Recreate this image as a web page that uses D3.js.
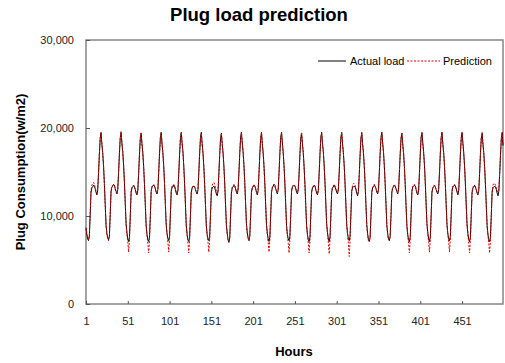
<!DOCTYPE html>
<html>
<head>
<meta charset="utf-8">
<script src="https://cdn.jsdelivr.net/npm/d3@7"></script>
<style>
  body { margin: 0; background: #fff; }
  #graphContainer { width: 505px; height: 363px; }
  text { font-family: Arial, "Liberation Sans", sans-serif; }
</style>
</head>
<body>
<div id="graphContainer"></div>
<script>
const chartTitle = "Plug load prediction";
const seriesNames = ["Actual load", "Prediction"];
const xTicks = [1, 51, 101, 151, 201, 251, 301, 351, 401, 451];
const yTicks = [0, 10000, 20000, 30000];

// hourly values, one row per day (hours 1..500)
const actualLoad = [
  8600, 7900, 7400, 7200, 7700, 10100, 12700, 13200, 13300, 13500, 13400, 13100, 12700, 12400, 12900, 14800, 17000, 18800, 19500, 18200, 17200, 15700, 13700, 11300,
  9000, 8000, 7500, 7300, 7700, 10200, 12800, 13300, 13400, 13600, 13500, 13100, 12800, 12500, 13000, 14900, 17100, 18900, 19500, 18300, 17300, 15800, 13800, 11400,
  9100, 8100, 7400, 7100, 7600, 10000, 12700, 13200, 13300, 13500, 13300, 13000, 12600, 12400, 12900, 14800, 17000, 18800, 19400, 18200, 17200, 15600, 13600, 11200,
  8900, 7900, 7300, 7100, 7600, 10100, 12800, 13300, 13400, 13500, 13400, 13100, 12700, 12500, 13000, 14900, 17100, 18900, 19500, 18200, 17200, 15700, 13700, 11300,
  9000, 8000, 7400, 7200, 7700, 10200, 12800, 13300, 13300, 13500, 13400, 13000, 12600, 12400, 12900, 14800, 17000, 18800, 19500, 18300, 17300, 15700, 13700, 11300,
  8900, 7900, 7300, 7100, 7600, 10100, 12700, 13200, 13300, 13400, 13300, 13000, 12700, 12500, 13000, 14900, 17100, 18900, 19500, 18200, 17200, 15600, 13600, 11200,
  8900, 7900, 7400, 7200, 7700, 10200, 12700, 13200, 13300, 13400, 13200, 12900, 12500, 12300, 12800, 14800, 17000, 18800, 19400, 18200, 17200, 15700, 13700, 11300,
  9000, 8000, 7300, 7000, 7500, 10000, 12600, 13200, 13300, 13500, 13400, 13100, 12700, 12500, 13000, 14900, 17100, 18900, 19500, 18300, 17300, 15800, 13800, 11400,
  9100, 8100, 7500, 7200, 7700, 10100, 12700, 13200, 13300, 13500, 13400, 13100, 12700, 12400, 12900, 14800, 17000, 18800, 19500, 18200, 17200, 15700, 13700, 11300,
  9000, 8000, 7400, 7100, 7600, 10100, 12700, 13200, 13400, 13600, 13500, 13100, 12800, 12500, 13000, 14900, 17100, 18900, 19500, 18300, 17200, 15700, 13700, 11300,
  8900, 7900, 7400, 7200, 7700, 10200, 12800, 13300, 13400, 13500, 13400, 13100, 12700, 12500, 13000, 14800, 17000, 18800, 19400, 18200, 17200, 15600, 13600, 11200,
  8900, 7900, 7300, 7100, 7600, 10100, 12700, 13200, 13300, 13500, 13400, 13000, 12600, 12400, 12900, 14800, 17000, 18900, 19500, 18300, 17300, 15800, 13800, 11400,
  9100, 8100, 7400, 7100, 7600, 10000, 12700, 13200, 13300, 13500, 13300, 13000, 12700, 12500, 13000, 14900, 17100, 18900, 19500, 18200, 17200, 15700, 13700, 11300,
  9000, 8000, 7400, 7200, 7700, 10200, 12800, 13300, 13300, 13400, 13300, 13000, 12600, 12300, 12800, 14700, 16900, 18800, 19500, 18200, 17200, 15700, 13700, 11300,
  9000, 8000, 7300, 7100, 7600, 10100, 12700, 13200, 13300, 13500, 13400, 13100, 12700, 12500, 13000, 14900, 17100, 18900, 19500, 18300, 17300, 15700, 13700, 11300,
  9000, 8000, 7400, 7200, 7700, 10100, 12700, 13200, 13300, 13500, 13400, 13100, 12800, 12500, 13000, 14900, 17000, 18800, 19400, 18200, 17200, 15600, 13600, 11200,
  8900, 7900, 7300, 7100, 7600, 10100, 12800, 13300, 13400, 13500, 13400, 13000, 12600, 12400, 12900, 14800, 17000, 18900, 19500, 18300, 17300, 15800, 13800, 11400,
  9100, 8100, 7400, 7100, 7600, 10000, 12700, 13200, 13300, 13500, 13300, 13000, 12700, 12500, 13000, 14900, 17100, 18900, 19500, 18200, 17200, 15700, 13700, 11300,
  9000, 8000, 7400, 7200, 7700, 10200, 12800, 13300, 13400, 13500, 13400, 13100, 12700, 12400, 12900, 14800, 17000, 18800, 19500, 18300, 17200, 15700, 13700, 11300,
  9000, 8000, 7300, 7100, 7600, 10100, 12700, 13200, 13300, 13500, 13300, 13000, 12600, 12400, 12900, 14800, 17000, 18800, 19400, 18200, 17200, 15600, 13600, 11200,
  8900, 7900, 7300, 7100, 7600, 10100, 12700, 13200, 13300, 13400, 13300, 13000, 12600, 12300, 12800, 14700, 16900, 18800, 19500, 18000
];

const predictedLoad = [
  8700, 8000, 7500, 7300, 7800, 10300, 12900, 13500, 13700, 13800, 13600, 13200, 12800, 12600, 13100, 14900, 17100, 18900, 19400, 18100, 17100, 15600, 13600, 11200,
  8900, 7900, 7400, 7200, 7700, 10300, 12900, 13400, 13500, 13600, 13400, 13000, 12700, 12500, 13100, 15000, 17200, 18900, 19600, 18200, 17200, 15700, 13700, 11300,
  8900, 7900, 7000, 5900, 7300, 10000, 12800, 13300, 13400, 13500, 13300, 13000, 12700, 12500, 13000, 14900, 17100, 18900, 19500, 18100, 17100, 15600, 13600, 11200,
  8800, 7800, 6900, 5800, 7300, 10100, 12900, 13400, 13500, 13600, 13400, 13100, 12800, 12600, 13100, 15000, 17200, 18900, 19500, 18100, 17100, 15600, 13600, 11200,
  8900, 7900, 7000, 5900, 7400, 10200, 12900, 13400, 13400, 13600, 13400, 13100, 12700, 12500, 13000, 14900, 17100, 18900, 19500, 18200, 17200, 15600, 13600, 11200,
  8800, 7800, 6900, 5800, 7300, 10100, 12800, 13300, 13400, 13500, 13300, 13000, 12700, 12500, 13100, 15000, 17200, 18900, 19400, 18100, 17100, 15500, 13500, 11100,
  8800, 7800, 7000, 5900, 7400, 10200, 12900, 13500, 13700, 13800, 13600, 13200, 12800, 12500, 12900, 14800, 17000, 18800, 19400, 18100, 17100, 15600, 13600, 11200,
  8900, 7900, 7300, 7100, 7600, 10100, 12700, 13300, 13400, 13600, 13500, 13100, 12800, 12600, 13100, 15000, 17200, 18900, 19500, 18200, 17200, 15700, 13700, 11300,
  9000, 8000, 7400, 7200, 7700, 10200, 12800, 13300, 13400, 13600, 13400, 13100, 12700, 12500, 13000, 14900, 17100, 18900, 19500, 18100, 17100, 15600, 13600, 11200,
  8900, 7900, 7000, 5900, 7300, 10100, 12800, 13300, 13500, 13600, 13400, 13100, 12800, 12600, 13100, 15000, 17200, 18900, 19500, 18200, 17100, 15600, 13600, 11200,
  8800, 7800, 6900, 5800, 7400, 10200, 12900, 13400, 13500, 13600, 13400, 13100, 12800, 12600, 13100, 14900, 17100, 18900, 19500, 18100, 17100, 15500, 13500, 11100,
  8800, 7800, 6900, 5800, 7300, 10100, 12800, 13300, 13400, 13500, 13400, 13000, 12700, 12500, 13000, 14900, 17100, 18900, 19400, 18200, 17200, 15700, 13700, 11300,
  9000, 8000, 7000, 5700, 7300, 10000, 12800, 13300, 13400, 13600, 13400, 13100, 12800, 12600, 13100, 15000, 17200, 18900, 19500, 18100, 17100, 15600, 13600, 11200,
  8900, 7900, 6800, 5400, 7300, 10200, 12900, 13500, 13700, 13700, 13500, 13100, 12700, 12400, 12900, 14800, 17000, 18800, 19400, 18100, 17100, 15600, 13600, 11200,
  8900, 7900, 7200, 7100, 7600, 10200, 12800, 13300, 13400, 13600, 13400, 13100, 12800, 12600, 13100, 15000, 17200, 18900, 19500, 18200, 17200, 15600, 13600, 11200,
  8900, 7900, 7300, 7200, 7700, 10200, 12800, 13300, 13400, 13600, 13400, 13100, 12800, 12600, 13100, 15000, 17100, 18900, 19500, 18100, 17100, 15500, 13500, 11100,
  8800, 7800, 6900, 5800, 7300, 10100, 12900, 13400, 13500, 13600, 13400, 13100, 12700, 12500, 13000, 14900, 17100, 18900, 19500, 18200, 17200, 15700, 13700, 11300,
  9000, 8000, 7000, 5900, 7300, 10000, 12800, 13300, 13400, 13500, 13300, 13000, 12800, 12600, 13100, 15000, 17200, 18900, 19500, 18100, 17100, 15600, 13600, 11200,
  8900, 7900, 7000, 5900, 7400, 10200, 12900, 13400, 13500, 13600, 13400, 13100, 12800, 12500, 13000, 14900, 17100, 18900, 19500, 18200, 17100, 15600, 13600, 11200,
  8900, 7900, 6900, 5800, 7300, 10100, 12800, 13300, 13400, 13500, 13300, 13000, 12700, 12500, 13000, 14900, 17100, 18900, 19500, 18100, 17100, 15500, 13500, 11100,
  8800, 7800, 6900, 5800, 7300, 10200, 12900, 13500, 13700, 13700, 13500, 13200, 12900, 12700, 13000, 14800, 17000, 18800, 19400, 18000
];

const width = 505, height = 363;
const margin = { top: 40, right: 2, bottom: 59, left: 86 };
const plotW = width - margin.left - margin.right;
const plotH = height - margin.top - margin.bottom;

const svg = d3.select("#graphContainer")
  .append("svg")
  .attr("width", width)
  .attr("height", height)
  .style("background-color", "#fff");

// title
svg.append("text")
  .attr("x", 259)
  .attr("y", 21)
  .attr("text-anchor", "middle")
  .style("font-size", "18.5px")
  .style("font-weight", "bold")
  .text(chartTitle);

const g = svg.append("g")
  .attr("transform", "translate(" + margin.left + "," + margin.top + ")");

const x = d3.scaleLinear().domain([1, actualLoad.length]).range([0, plotW]);
const y = d3.scaleLinear().domain([0, 30000]).range([plotH, 0]);

// plot frame
g.append("rect")
  .attr("width", plotW)
  .attr("height", plotH)
  .attr("fill", "#fff")
  .attr("stroke", "#858585")
  .attr("stroke-width", 1.5);

// Y axis
const yAxis = g.append("g")
  .call(d3.axisLeft(y).tickValues(yTicks).tickFormat(d3.format(",")).tickSizeInner(-4).tickSizeOuter(0).tickPadding(12));
yAxis.select(".domain").remove();
yAxis.selectAll("line").attr("stroke", "#555");
yAxis.selectAll("text").style("font-size", "11px").attr("fill", "#222");

// X axis
const xAxis = g.append("g")
  .attr("transform", "translate(0," + plotH + ")")
  .call(d3.axisBottom(x).tickValues(xTicks).tickFormat(d3.format("d")).tickSizeInner(-3).tickSizeOuter(0).tickPadding(13));
xAxis.select(".domain").remove();
xAxis.selectAll("line").attr("stroke", "#555");
xAxis.selectAll("text").style("font-size", "11px").attr("fill", "#222");

// axis titles
svg.append("text")
  .attr("x", 294)
  .attr("y", 356)
  .attr("text-anchor", "middle")
  .style("font-size", "13px")
  .style("font-weight", "bold")
  .text("Hours");

svg.append("text")
  .attr("transform", "translate(25,172) rotate(-90)")
  .attr("text-anchor", "middle")
  .style("font-size", "13px")
  .style("font-weight", "bold")
  .text("Plug Consumption(w/m2)");

// lines
const line = d3.line()
  .x(function(d, i) { return x(i + 1); })
  .y(function(d) { return y(d); });

g.append("path")
  .attr("d", line(actualLoad))
  .attr("fill", "none")
  .attr("stroke", "#000")
  .attr("stroke-width", 1);

g.append("path")
  .attr("d", line(predictedLoad))
  .attr("fill", "none")
  .attr("stroke", "#e00000")
  .attr("stroke-width", 1)
  .attr("stroke-dasharray", "2,1.5");

// legend
const legend = svg.append("g");
legend.append("line")
  .attr("x1", 318).attr("x2", 346).attr("y1", 61).attr("y2", 61)
  .attr("stroke", "#000").attr("stroke-width", 1);
legend.append("text")
  .attr("x", 350).attr("y", 65)
  .style("font-size", "11px")
  .text(seriesNames[0]);
legend.append("line")
  .attr("x1", 407).attr("x2", 440).attr("y1", 61).attr("y2", 61)
  .attr("stroke", "#e00000").attr("stroke-width", 1)
  .attr("stroke-dasharray", "2,1.5");
legend.append("text")
  .attr("x", 443).attr("y", 65)
  .style("font-size", "11px")
  .text(seriesNames[1]);
</script>
</body>
</html>
